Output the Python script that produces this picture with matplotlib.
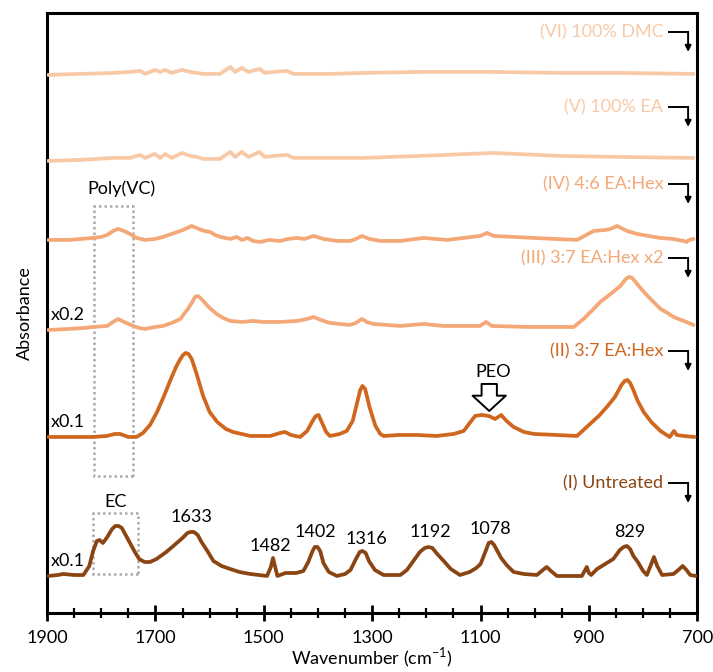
import matplotlib
matplotlib.use("Agg")
import matplotlib.pyplot as plt
from matplotlib.patches import Rectangle

plt.rcParams['font.family'] = ['Lato', 'DejaVu Sans']
plt.rcParams['mathtext.fontset'] = 'custom'
plt.rcParams['mathtext.rm'] = 'Lato'

# spectra: wavenumber (cm-1) and intensity above each trace's own baseline (a.u.)
wn_I = [1898, 1880, 1870, 1850, 1833, 1822, 1815, 1808, 1803, 1797, 1790, 1780, 1774, 1768, 1762,
        1755, 1747, 1738, 1730, 1720, 1710, 1698, 1680, 1667, 1650, 1641, 1635, 1629, 1622, 1615,
        1603, 1593, 1578, 1562, 1545, 1525, 1494, 1487, 1483, 1479, 1475, 1460, 1440, 1427, 1418,
        1410, 1406, 1401, 1396, 1390, 1380, 1365, 1350, 1340, 1330, 1323, 1318, 1312, 1306, 1295,
        1279, 1248, 1236, 1224, 1212, 1203, 1196, 1189, 1180, 1168, 1155, 1138, 1120, 1108, 1100,
        1092, 1085, 1080, 1075, 1068, 1062, 1052, 1039, 1020, 996, 985, 978, 970, 959, 913,
        907, 904, 900, 896, 885, 870, 855, 843, 836, 830, 824, 818, 811, 800, 793,
        785, 780, 774, 765, 744, 735, 727, 720, 713, 702]
int_I = [0, 1, 2, 1, 1, 10, 25, 35, 36, 33, 38, 47, 50, 50, 48,
         41, 33, 24, 17, 14, 14, 17, 24, 30, 38, 43, 44, 44, 41, 34,
         24, 15, 10, 7, 4, 2, 0, 9, 18, 9, 0, 3, 3, 5, 14,
         25, 29, 29, 25, 13, 4, 0, 2, 6, 17, 24, 25, 23, 15, 6,
         1, 1, 6, 15, 24, 28, 29, 28, 22, 15, 7, 1, 4, 8, 12,
         23, 33, 34, 31, 24, 18, 11, 4, 2, 1, 6, 9, 5, 0, 0,
         6, 9, 3, 1, 7, 12, 17, 26, 29, 30, 27, 20, 15, 5, 1,
         12, 19, 10, 1, 2, 6, 10, 6, 1, 0]

wn_II = [1898, 1850, 1815, 1790, 1775, 1765, 1750, 1735, 1723, 1710, 1697, 1685, 1673, 1662, 1655,
         1649, 1644, 1639, 1633, 1624, 1612, 1600, 1586, 1570, 1557, 1525, 1488, 1470, 1461, 1450,
         1433, 1420, 1410, 1404, 1399, 1394, 1385, 1378, 1360, 1347, 1336, 1327, 1322, 1318, 1313,
         1305, 1294, 1285, 1279, 1250, 1218, 1181, 1150, 1131, 1120, 1110, 1098, 1085, 1073, 1062,
         1052, 1039, 1020, 1002, 960, 922, 910, 898, 880, 867, 852, 840, 834, 829, 824,
         818, 810, 799, 785, 768, 751, 743, 738, 725, 705]
int_II = [0, 0, 0, 1, 3, 3, 0, 0, 4, 12, 25, 40, 56, 70, 77,
          82, 84, 83, 78, 63, 41, 25, 15, 8, 5, 1, 1, 4, 5, 2,
          0, 6, 16, 21, 22, 16, 5, 1, 3, 6, 16, 36, 47, 51, 48,
          30, 11, 3, 1, 2, 2, 1, 3, 6, 14, 21, 22, 21, 18, 22,
          16, 10, 5, 3, 2, 1, 7, 13, 22, 30, 40, 52, 56, 57, 54,
          47, 36, 25, 15, 6, 0, 6, 2, 1, 0]

wn_III = [1898, 1860, 1830, 1815, 1789, 1778, 1769, 1758, 1741, 1730, 1719, 1700, 1686, 1670, 1654,
          1646, 1640, 1632, 1627, 1622, 1617, 1610, 1600, 1587, 1575, 1562, 1540, 1520, 1501, 1470,
          1439, 1420, 1408, 1395, 1378, 1341, 1330, 1319, 1310, 1298, 1248, 1205, 1168, 1101, 1090,
          1079, 1014, 928, 910, 895, 879, 860, 842, 832, 826, 820, 814, 805, 790, 768,
          755, 744, 725, 707]
int_III = [0, 1, 2, 3, 4, 8, 11, 8, 4, 2, 1, 3, 4, 7, 11,
           17, 21, 28, 33, 34, 32, 28, 22, 16, 12, 9, 8, 9, 8, 8,
           9, 11, 13, 10, 7, 5, 7, 11, 8, 6, 4, 6, 4, 4, 8,
           4, 3, 3, 11, 19, 28, 36, 44, 51, 53, 52, 48, 42, 33, 21,
           17, 13, 9, 5]

wn_IV = [1898, 1860, 1815, 1800, 1789, 1778, 1769, 1758, 1747, 1735, 1719, 1700, 1686, 1670, 1654,
         1645, 1633, 1620, 1610, 1599, 1590, 1580, 1562, 1550, 1540, 1530, 1520, 1507, 1490, 1470,
         1455, 1439, 1425, 1408, 1390, 1365, 1341, 1330, 1319, 1305, 1285, 1248, 1205, 1162, 1101,
         1088, 1076, 1002, 922, 905, 891, 870, 860, 848, 830, 811, 790, 768, 745, 725,
         720, 715, 707]
int_IV = [0, 0, 2, 3, 5, 9, 11, 9, 6, 2, 0, 1, 3, 6, 9,
          11, 14, 11, 9, 8, 5, 3, 1, 3, 0, 2, -1, -2, 0, -1,
          1, 2, 1, 4, 1, -1, -1, 1, 4, 1, -1, -1, 2, 0, 4,
          7, 4, 2, 0, 5, 9, 10, 11, 14, 9, 6, 4, 2, 1, -1,
          -2, 0, 1]

wn_V = [1898, 1839, 1778, 1747, 1728, 1719, 1701, 1691, 1682, 1670, 1651, 1636, 1624, 1611, 1581,
        1562, 1553, 1541, 1528, 1508, 1498, 1482, 1457, 1445, 1378, 1317, 1211, 1077, 953, 842,
        707]
int_V = [0, 1, 3, 3, 6, 3, 7, 3, 7, 3, 8, 5, 4, 2, 2,
         9, 4, 9, 4, 9, 4, 5, 6, 3, 3, 3, 5, 8, 5, 4,
         3]

wn_VI = [1898, 1839, 1778, 1747, 1728, 1719, 1701, 1691, 1682, 1670, 1651, 1636, 1624, 1611, 1581,
         1562, 1553, 1541, 1528, 1508, 1498, 1482, 1457, 1445, 1378, 1317, 1211, 1077, 953, 842,
         707]
int_VI = [0, 1, 2, 3, 4, 1, 5, 3, 5, 2, 5, 3, 2, 1, 1,
          8, 3, 7, 3, 6, 2, 3, 4, 1, 1, 2, 3, 3, 2, 2,
          1]

labels = ['(I) Untreated', '(II) 3:7 EA:Hex', '(III) 3:7 EA:Hex x2',
          '(IV) 4:6 EA:Hex', '(V) 100% EA', '(VI) 100% DMC']
offsets = [37, 176, 283, 373, 452, 538]
colors = ['#8B4513', '#D0671F', '#F4A877', '#F4A877', '#F8C9A6', '#F8C9A6']
label_y = [130, 262, 355, 429, 506, 581]
scales = {0: 'x0.1', 1: 'x0.1', 2: 'x0.2'}

peak_labels = ['1633', '1482', '1402', '1316', '1192', '1078', '829']
peak_label_x = [1634, 1488, 1405, 1311, 1193, 1082, 824]
peak_label_y = [96, 67, 81, 74, 81, 84, 81]

spectra = [(wn_I, int_I), (wn_II, int_II), (wn_III, int_III),
           (wn_IV, int_IV), (wn_V, int_V), (wn_VI, int_VI)]

fig = plt.figure(figsize=(7.13, 6.72), dpi=100)
ax = fig.add_axes([0.066, 0.0878, 0.912, 0.893])

for i, (w, v) in enumerate(spectra):
    ax.plot(w, [a + offsets[i] for a in v], color=colors[i], lw=2.7,
            solid_joinstyle='round', solid_capstyle='round', zorder=3)
    ax.text(763, label_y[i], labels[i], color=colors[i], fontsize=13,
            ha='right', va='center')
    ax.plot([753, 717], [label_y[i], label_y[i]], color='black', lw=1.4)
    ax.annotate('', xy=(717, label_y[i] - 20), xytext=(717, label_y[i]),
                arrowprops=dict(arrowstyle='-|>', color='black', lw=1.4,
                                mutation_scale=9, shrinkA=0, shrinkB=0))
    if i in scales:
        ax.text(1893, offsets[i] + 15, scales[i], fontsize=13, ha='left', va='center')

for t, x, y in zip(peak_labels, peak_label_x, peak_label_y):
    ax.text(x, y, t, fontsize=13, ha='center', va='center')

# dotted boxes
ax.add_patch(Rectangle((1741, 137), 72, 270, fill=False, ec='#AAAAAA', lw=1.8,
                       ls=(0, (1, 1.2)), zorder=2))
ax.text(1762, 424, 'Poly(VC)', fontsize=13, ha='center', va='center')
ax.add_patch(Rectangle((1733, 39), 83, 61, fill=False, ec='#AAAAAA', lw=1.8,
                       ls=(0, (1, 1.2)), zorder=2))
ax.text(1774, 111, 'EC', fontsize=13, ha='center', va='center')

# PEO marker
ax.text(1077, 241, 'PEO', fontsize=13, ha='center', va='center')
ax.annotate('', xy=(1084, 202), xytext=(1084, 229),
            arrowprops=dict(facecolor='white', edgecolor='black', lw=1.4,
                            width=11, headwidth=24, headlength=11, shrink=0))

ax.set_xlim(1900, 700)
ax.set_ylim(0, 600)
ax.set_yticks([])
ax.set_xticks([1900, 1700, 1500, 1300, 1100, 900, 700])
ax.set_xticks(range(700, 1901, 50), minor=True)
ax.tick_params(axis='x', which='major', direction='inout', length=11, width=2, labelsize=13, pad=7)
ax.tick_params(axis='x', which='minor', direction='inout', length=7, width=1.6)
for s in ax.spines.values():
    s.set_linewidth(2.2)

ax.set_xlabel('Wavenumber (cm$^{-1}$)', fontsize=13, labelpad=0)
ax.set_ylabel('Absorbance', fontsize=13, labelpad=10)

fig.savefig('out.png', dpi=100)
